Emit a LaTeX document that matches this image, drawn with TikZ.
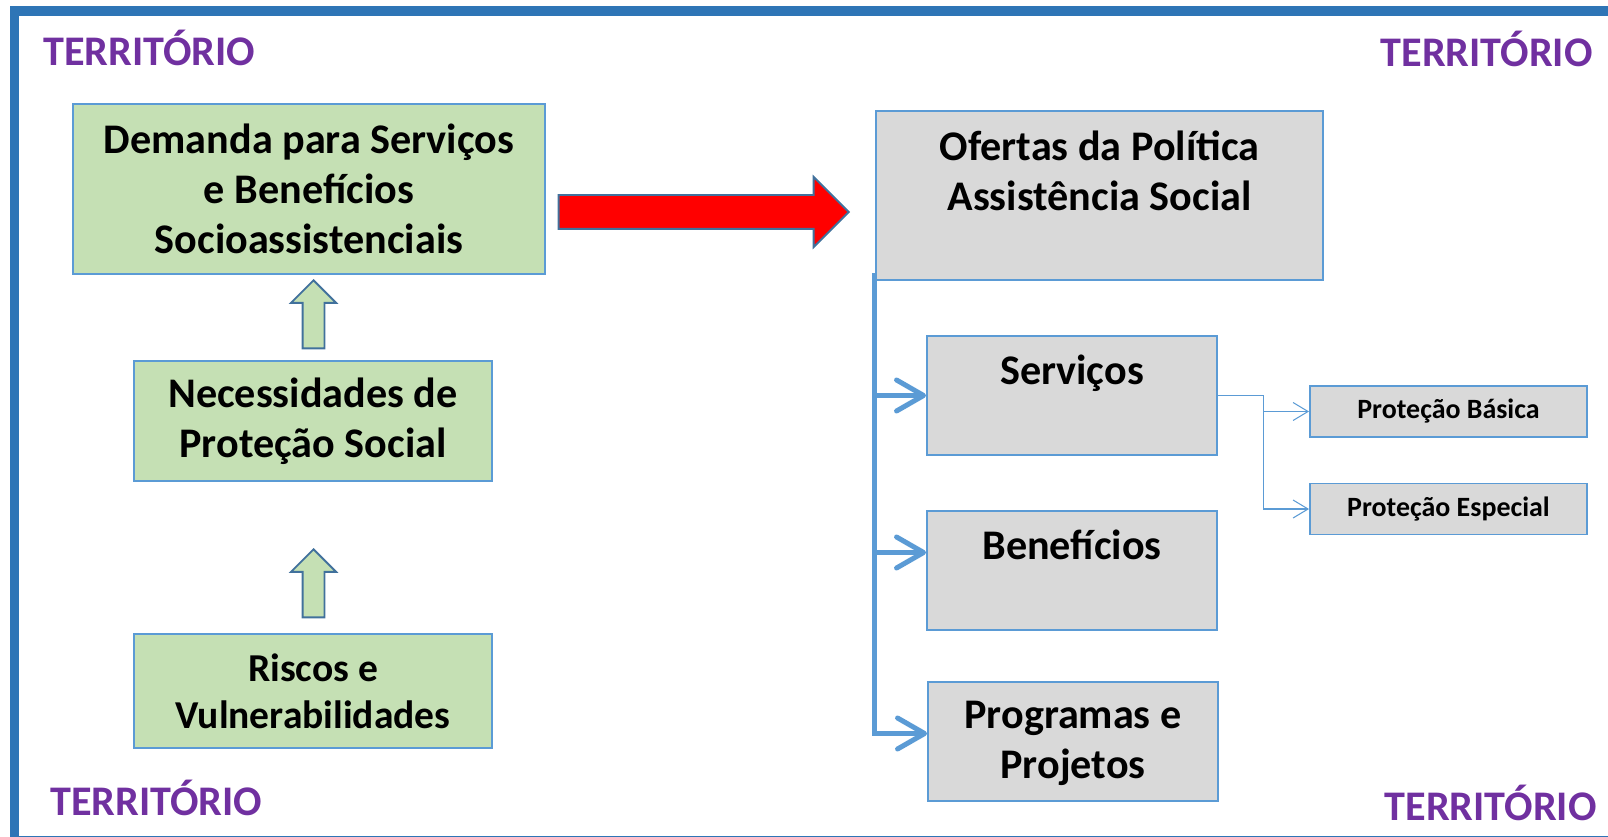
\documentclass[tikz,border=0pt]{standalone}
\usepackage{fontspec}
\setmainfont{Carlito}
\usetikzlibrary{positioning}
\usetikzlibrary{calc,shapes.arrows,arrows.meta}
\definecolor{moldura}{HTML}{2E75B6}
\definecolor{contorno}{HTML}{5B9BD5}
\definecolor{contornoSeta}{HTML}{41719C}
\definecolor{verde}{HTML}{C5E0B4}
\definecolor{cinza}{HTML}{D9D9D9}
\definecolor{roxo}{HTML}{7030A0}
\tikzset{
    territorio/.style={font=\fontsize{24}{28}\selectfont\bfseries, text=roxo, inner sep=0pt}
}
\tikzset{
    caixaVerde/.style={draw=contorno, line width=1.1pt, fill=verde, align=center, inner sep=0pt,
        font=\fontsize{24}{28.5}\selectfont\bfseries},
    caixaCinza/.style={draw=contorno, line width=1.1pt, fill=cinza, inner sep=0pt},
    textoCinza/.style={anchor=north, yshift=-0.4cm, align=center, inner sep=0pt,
        font=\fontsize{24}{28.5}\selectfont\bfseries},
    caixaPequena/.style={draw=contorno, line width=1.1pt, fill=cinza, inner sep=0pt,
        minimum width=5.54cm, minimum height=1.02cm, font=\fontsize{15.9}{19}\selectfont\bfseries}
}
\tikzset{
    setaVerde/.style={single arrow, shape border rotate=90, draw=contornoSeta, line width=1.1pt, fill=verde,
        inner sep=0.2cm, minimum height=1.36cm, single arrow head extend=0.23cm, anchor=tip},
    setaVermelha/.style={single arrow, draw=contornoSeta, line width=1.1pt, fill=red,
        inner sep=0.32cm, minimum height=5.8cm, single arrow head extend=0.36cm, anchor=tip},
    tronco/.style={draw=contorno, line width=2.85pt},
    ramoFino/.style={draw=contorno, line width=0.6pt}
}

\begin{document}
\begin{tikzpicture}[x=0.02cm, y=-0.02cm]
    \useasboundingbox (0,0) rectangle (1608,837);
    \clip (0,0) rectangle (1608,837);
    \draw[moldura, line width=0.2cm] (14.5,11.5) rectangle (1640,841);
    % os quatro cantos
    \node[territorio, anchor=base west] (terrNO) at (43,66) {TERRITÓRIO};
    \node[territorio, anchor=base east] (terrNE) at (1593,67) {TERRITÓRIO};
    \node[territorio, anchor=base west] (terrSO) at (50,815) {TERRITÓRIO};
    \node[territorio, anchor=base east] (terrSE) at (1597,820) {TERRITÓRIO};
    % demandas
    \node[caixaVerde, minimum width=9.44cm, minimum height=3.4cm] (dem) at (309,189)
        {Demanda para Serviços\\e Benefícios\\Socioassistenciais};
    \node[caixaVerde, minimum width=7.16cm, minimum height=2.4cm] (nec) at (313,421)
        {Necessidades de\\Proteção Social};
    \node[caixaVerde, minimum width=7.16cm, minimum height=2.28cm,
        font=\fontsize{22.5}{26.8}\selectfont\bfseries] (ris) at (313,691)
        {Riscos e\\Vulnerabilidades};
    \node[setaVerde] (sobe1) at (313.5,279) {};
    \node[setaVerde] (sobe2) at (313.5,548) {};
    \node[setaVermelha] (seta) at (850,212) {};
    % ofertas
    \node[caixaCinza, minimum width=8.94cm, minimum height=3.38cm,
        label={[textoCinza]north:{Ofertas da Política\\Assistência Social}}] (ofe) at (1099.5,195.5) {};
    \node[caixaCinza, minimum width=5.8cm, minimum height=2.38cm,
        label={[textoCinza]north:Serviços}] (serv) at (1072,395.5) {};
    \node[caixaCinza, minimum width=5.8cm, minimum height=2.38cm,
        label={[textoCinza]north:Benefícios}] (ben) at (1072,570.5) {};
    \node[caixaCinza, minimum width=5.8cm, minimum height=2.38cm,
        label={[textoCinza]north:{Programas e\\Projetos}}] (prog) at (1073,741.5) {};
    \node[caixaPequena] (bas) at (1448.5,411.5) {Proteção Básica};
    \node[caixaPequena] (esp) at (1448.5,509) {Proteção Especial};
    % ligacoes
    \coordinate (entBen) at ($(ben.west)+(0,-18)$);
    \coordinate (entProg) at ($(prog.west)+(0,-8)$);
    \draw[tronco, -{Straight Barb[length=0.54cm, width=0.62cm, round]}] ($(ofe.south west)+(-1,-8)$) |- (entProg);
    \draw[tronco, -{Straight Barb[length=0.54cm, width=0.62cm, round]}] (ofe.south west |- serv.west) -- (serv.west);
    \draw[tronco, -{Straight Barb[length=0.54cm, width=0.62cm, round]}] (ofe.south west |- entBen) -- (entBen);
    \coordinate (dobra) at ($(serv.east)+(46,0)$);
    \draw[ramoFino, -{Straight Barb[length=0.3cm, width=0.36cm]}] (serv.east) -- (dobra) |- (esp.west);
    \draw[ramoFino, -{Straight Barb[length=0.3cm, width=0.36cm]}] (dobra |- bas.west) -- (bas.west);
\end{tikzpicture}
\end{document}
